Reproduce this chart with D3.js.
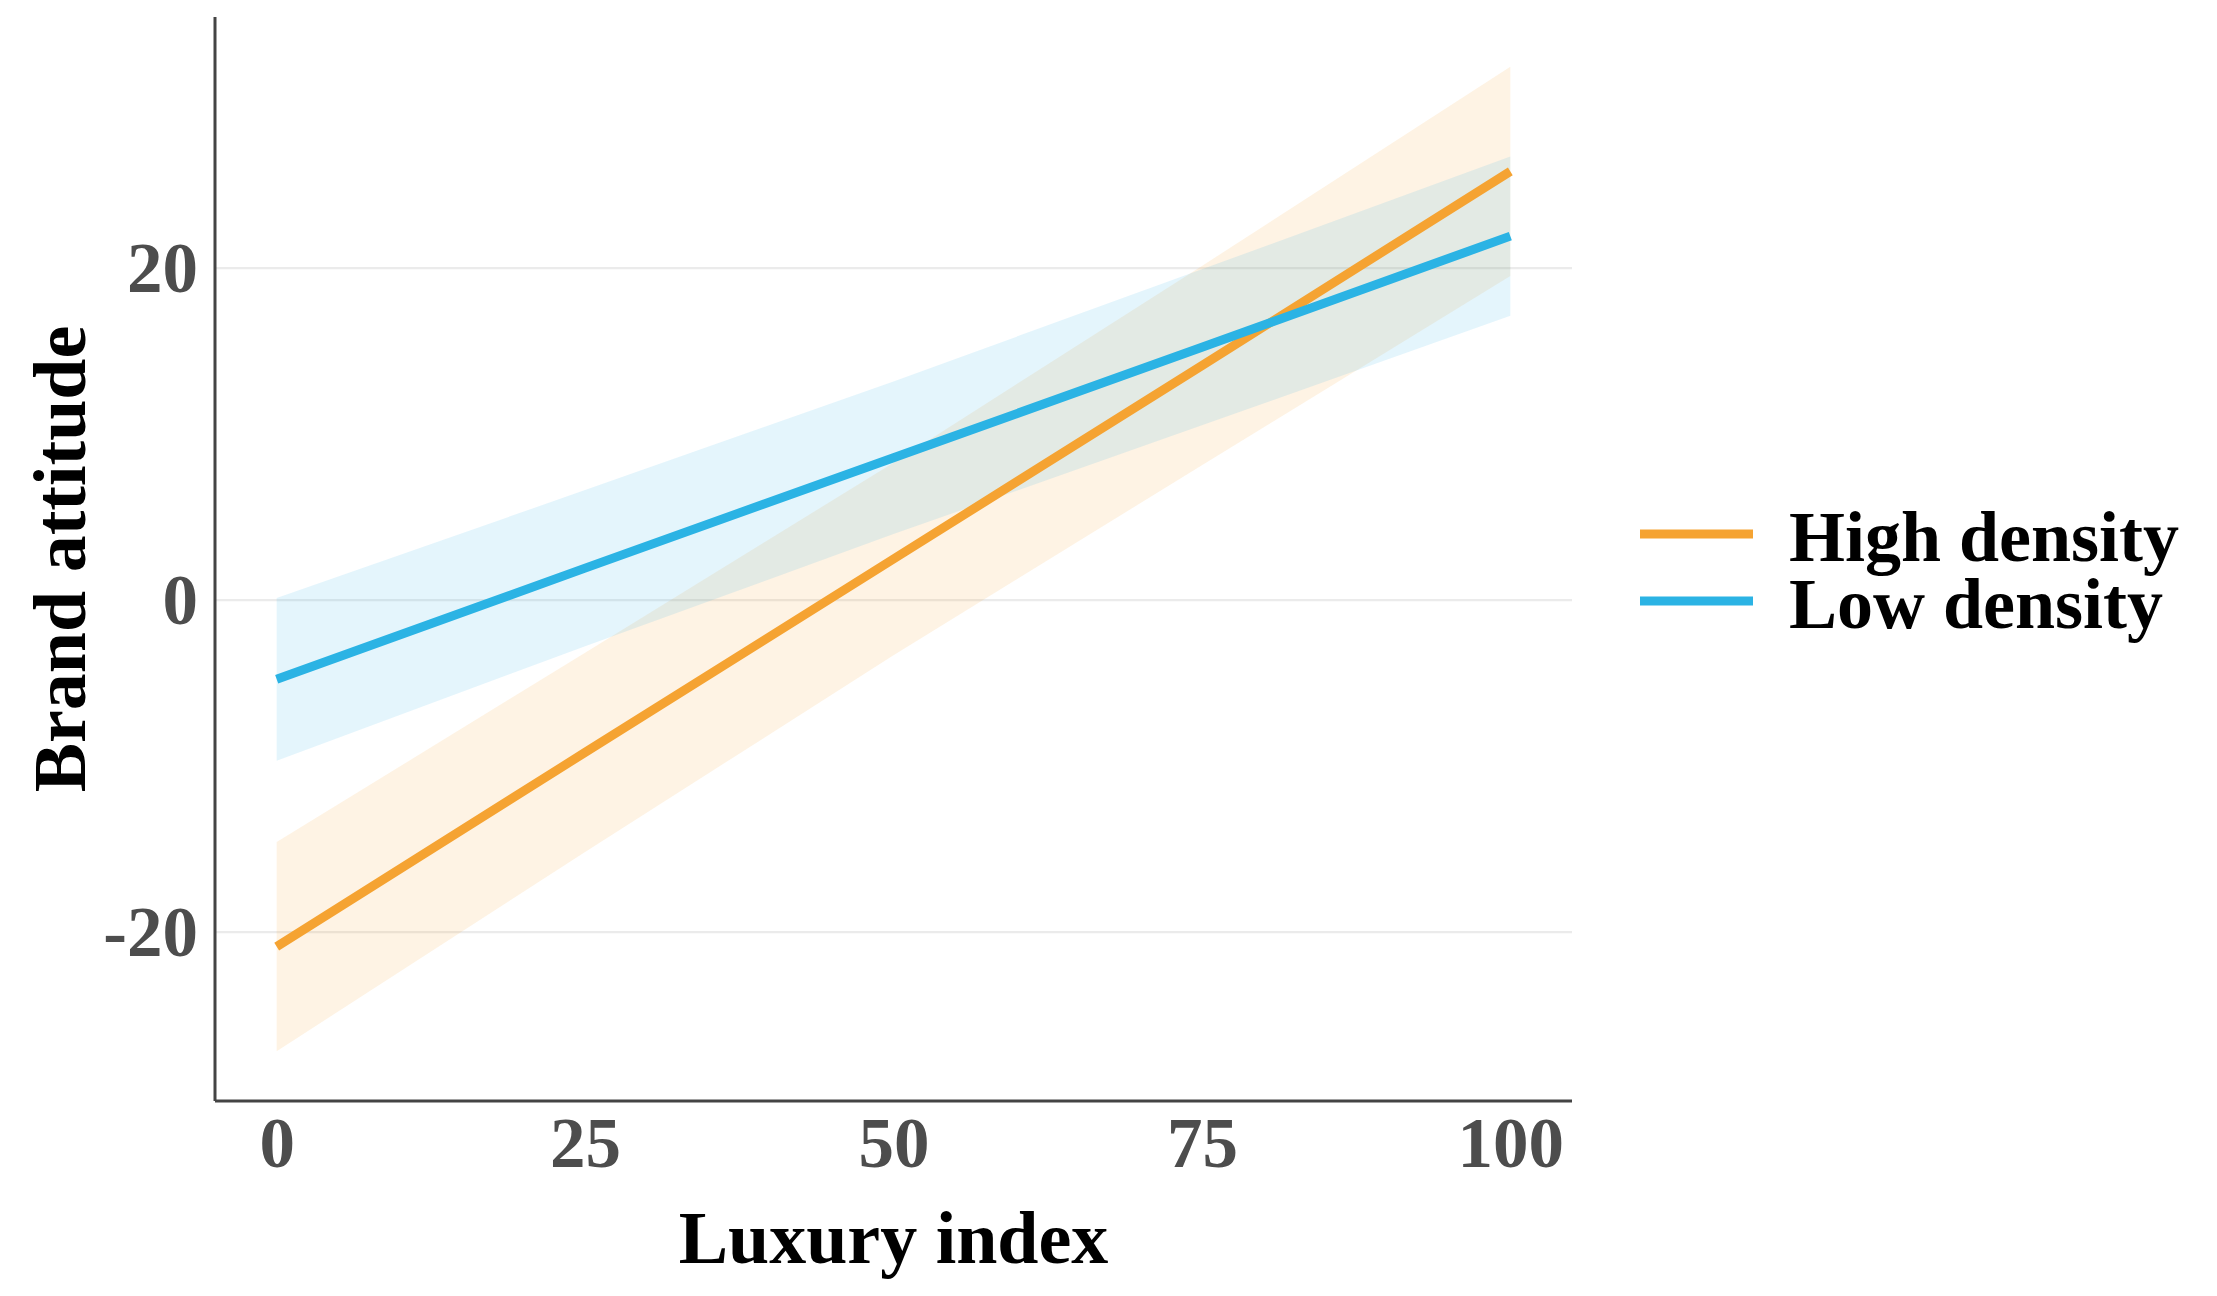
<!DOCTYPE html>
<html>
<head>
<meta charset="utf-8">
<script src="https://cdn.jsdelivr.net/npm/d3@7"></script>
<style>
  html, body { margin: 0; padding: 0; background: #ffffff; }
  svg { display: block; }
</style>
</head>
<body>
<svg id="chart" width="2217" height="1296"></svg>
<script>
// ---- Data ----
const luxuryIndex = [0, 25, 50, 75, 100];

const highFit   = [-20.9, -9.2, 2.45, 14.1, 25.8];
const highLower = [-27.2, -15.2, -3.35, 8.1, 19.5];
const highUpper = [-14.6, -3.2, 8.25, 20.1, 32.1];

const lowFit    = [-4.8, 1.9, 8.55, 15.2, 21.9];
const lowLower  = [-9.7, -2.8, 3.95, 10.5, 17.1];
const lowUpper  = [0.1, 6.6, 13.15, 19.9, 26.7];

const seriesNames = ["High density", "Low density"];
const seriesColors = ["#F5A332", "#2BB3E4"];

const xTicks = [0, 25, 50, 75, 100];
const yTicks = [-20, 0, 20];

const xTitle = "Luxury index";
const yTitle = "Brand attitude";

// ---- Build series ----
const series = [
  { name: seriesNames[0], color: seriesColors[0], fit: highFit, lower: highLower, upper: highUpper },
  { name: seriesNames[1], color: seriesColors[1], fit: lowFit, lower: lowLower, upper: lowUpper }
].map(s => ({
  ...s,
  pts: luxuryIndex.map((x, i) => ({ x, y: s.fit[i], lo: s.lower[i], hi: s.upper[i] }))
}));

// ---- Layout ----
const panel = { left: 215, right: 1572, top: 17, bottom: 1101 };
const svg = d3.select("#chart");
const font = "'Liberation Serif', 'Times New Roman', serif";
const fmt = d => String(d);

const x = d3.scaleLinear().domain([-5, 105]).range([panel.left, panel.right]);
const y = d3.scaleLinear().domain([-30.2, 35.1]).range([panel.bottom, panel.top]);

// Gridlines (horizontal only)
const grid = svg.append("g")
  .attr("transform", `translate(${panel.left},0)`)
  .call(d3.axisLeft(y).tickValues(yTicks).tickSize(-(panel.right - panel.left)).tickFormat(""));
grid.select(".domain").remove();
grid.selectAll(".tick line").attr("stroke", "#ebebeb").attr("stroke-width", 2.2);

// Ribbons
const area = d3.area()
  .x(d => x(d.x))
  .y0(d => y(d.lo))
  .y1(d => y(d.hi));

svg.append("g").selectAll("path.ribbon")
  .data(series)
  .join("path")
  .attr("class", "ribbon")
  .attr("d", d => area(d.pts))
  .attr("fill", d => d.color)
  .attr("fill-opacity", 0.13);

// Fit lines
const line = d3.line().x(d => x(d.x)).y(d => y(d.y));
svg.append("g").selectAll("path.fit")
  .data(series)
  .join("path")
  .attr("class", "fit")
  .attr("d", d => line(d.pts))
  .attr("fill", "none")
  .attr("stroke", d => d.color)
  .attr("stroke-width", 9)
  .attr("stroke-linecap", "butt");

// Axes
const xAxis = svg.append("g")
  .attr("transform", `translate(0,${panel.bottom})`)
  .call(d3.axisBottom(x).tickValues(xTicks).tickSize(0).tickPadding(0).tickFormat(fmt));
xAxis.select(".domain").attr("stroke", "#444444").attr("stroke-width", 3)
  .attr("d", `M${panel.left},0H${panel.right}`);
xAxis.selectAll(".tick text")
  .attr("y", 66)
  .attr("dy", 0)
  .attr("font-family", font)
  .attr("font-weight", "bold")
  .attr("font-size", 71)
  .attr("fill", "#4d4d4d");

const yAxis = svg.append("g")
  .attr("transform", `translate(${panel.left},0)`)
  .call(d3.axisLeft(y).tickValues(yTicks).tickSize(0).tickPadding(0).tickFormat(fmt));
yAxis.select(".domain").attr("stroke", "#444444").attr("stroke-width", 3)
  .attr("d", `M0,${panel.top}V${panel.bottom}`);
yAxis.selectAll(".tick text")
  .attr("x", -17)
  .attr("dy", "0.34em")
  .attr("font-family", font)
  .attr("font-weight", "bold")
  .attr("font-size", 71)
  .attr("fill", "#4d4d4d");

// Axis titles
svg.append("text")
  .attr("x", (panel.left + panel.right) / 2)
  .attr("y", 1263)
  .attr("text-anchor", "middle")
  .attr("font-family", font)
  .attr("font-weight", "bold")
  .attr("font-size", 74)
  .attr("fill", "#000000")
  .text(xTitle);

svg.append("text")
  .attr("transform", `translate(85,${(panel.top + panel.bottom) / 2}) rotate(-90)`)
  .attr("text-anchor", "middle")
  .attr("font-family", font)
  .attr("font-weight", "bold")
  .attr("font-size", 74)
  .attr("fill", "#000000")
  .text(yTitle);

// Legend
const legend = svg.append("g").attr("transform", "translate(1640,534)");
const items = legend.selectAll("g.item")
  .data(series)
  .join("g")
  .attr("class", "item")
  .attr("transform", (d, i) => `translate(0,${i * 67})`);
items.append("line")
  .attr("x1", 0).attr("x2", 113)
  .attr("y1", 0).attr("y2", 0)
  .attr("stroke", d => d.color)
  .attr("stroke-width", 9);
items.append("text")
  .attr("x", 149)
  .attr("y", 27)
  .attr("font-family", font)
  .attr("font-weight", "bold")
  .attr("font-size", 72)
  .attr("fill", "#000000")
  .text(d => d.name);
</script>
</body>
</html>
